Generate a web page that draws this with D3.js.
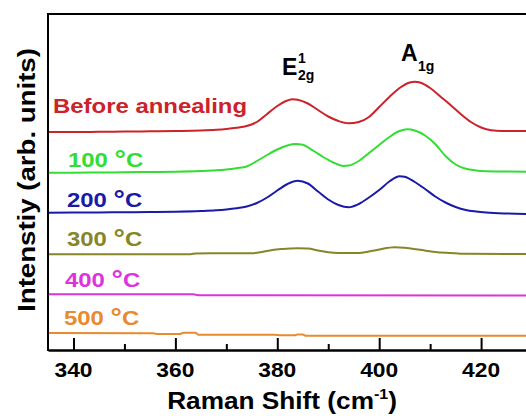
<!DOCTYPE html>
<html><head><meta charset="utf-8">
<script src="https://cdn.jsdelivr.net/npm/d3@7"></script>
<style>html,body{margin:0;padding:0;background:#fff;overflow:hidden}</style>
</head><body><svg id="c" width="526" height="416"></svg>
<script>
// ---- data (Raman shift in cm^-1, intensity in arb. units incl. vertical offsets) ----
const xTicks = [340, 360, 380, 400, 420];
const xMinorTicks = [350, 370, 390, 410, 430];
const seriesLabels = ["Before annealing", "100 °C", "200 °C", "300 °C", "400 °C", "500 °C"];
const seriesColors = ["#cc2229", "#33dd33", "#1a1aa8", "#868628", "#dd33dd", "#e88a2e"];

const shiftBefore = [335,340,345,350,355,360,365,368,370,372,374,376,378,380,382,383,384,386,388,390,392,394,396,398,400,402,404,406,407,408,410,412,414,416,418,420,422,424,428,440];
const intBefore   = [2.18,2.18,2.182,2.184,2.187,2.19,2.195,2.202,2.21,2.222,2.24,2.28,2.36,2.44,2.495,2.507,2.502,2.465,2.40,2.335,2.29,2.267,2.28,2.33,2.43,2.53,2.62,2.675,2.683,2.675,2.62,2.535,2.45,2.36,2.28,2.225,2.197,2.19,2.19,2.19];

const shift100 = [335,340,345,350,355,360,365,368,370,372,374,376,378,380,382,383.5,385,387,389,391,393,394,396,398,400,402,404,405.5,407,409,411,413,415,417,419,421,425,440];
const int100   = [1.773,1.773,1.775,1.777,1.78,1.783,1.79,1.797,1.805,1.818,1.835,1.89,1.95,2.005,2.045,2.06,2.052,1.995,1.93,1.875,1.84,1.844,1.89,1.97,2.05,2.13,2.19,2.207,2.195,2.145,2.06,1.94,1.855,1.812,1.795,1.788,1.784,1.783];

const shift200 = [335,340,345,350,355,360,365,368,370,372,374,376,378,380,382,384,386,388,390,392,394,396,398,400,402,404,405,407,409,411,413,415,417,419,421,425,430,440];
const int200   = [1.373,1.374,1.376,1.378,1.38,1.383,1.39,1.397,1.405,1.417,1.435,1.47,1.525,1.595,1.66,1.693,1.665,1.585,1.505,1.45,1.427,1.46,1.525,1.60,1.685,1.738,1.732,1.68,1.61,1.535,1.475,1.43,1.40,1.385,1.375,1.365,1.36,1.357];

const shift300 = [335,345,355,363,364,370,375,377,379,381,384,386,388,390,392,396,398,400,403,405,408,411,414,417,425,440];
const int300   = [0.957,0.957,0.957,0.958,0.966,0.967,0.968,0.98,1.0,1.01,1.017,1.014,0.995,0.977,0.97,0.97,0.985,1.005,1.027,1.022,1.002,0.98,0.97,0.962,0.96,0.96];

const shift400 = [335,363.5,364.5,440];
const int400   = [0.557,0.557,0.547,0.546];

const shift500 = [335,355.5,356.5,361,361.5,364,364.5,379.5,380.5,383.5,384,385,385.5,440];
const int500   = [0.17,0.167,0.16,0.16,0.172,0.172,0.153,0.153,0.147,0.147,0.156,0.156,0.143,0.143];

const seriesX = [shiftBefore, shift100, shift200, shift300, shift400, shift500];
const seriesY = [intBefore, int100, int200, int300, int400, int500];
const seriesSmooth = [true, true, true, true, false, false];

// ---- layout ----
const svg = d3.select("#c");
const mLeft = 48, mTop = 14, mBottom = 350;
const x = d3.scaleLinear().domain([335, 440]).range([mLeft, mLeft + 535]);
const y = d3.scaleLinear().domain([0, 3.36]).range([mBottom, mTop]);
const FONT = "Arial, 'Liberation Sans', Helvetica, sans-serif";
const SX = 1.14;

svg.append("defs").append("clipPath").attr("id", "clip")
  .append("rect").attr("x", mLeft).attr("y", mTop).attr("width", 600).attr("height", mBottom - mTop);

// curves
const plot = svg.append("g").attr("clip-path", "url(#clip)");
seriesX.forEach((xs, i) => {
  const pts = xs.map((v, j) => [v, seriesY[i][j]]);
  const line = d3.line().x(d => x(d[0])).y(d => y(d[1]))
    .curve(seriesSmooth[i] ? d3.curveMonotoneX : d3.curveLinear);
  plot.append("path").datum(pts).attr("d", line)
    .attr("fill", "none").attr("stroke", seriesColors[i]).attr("stroke-width", 2);
});

// frame
svg.append("line").attr("x1", mLeft).attr("x2", 526).attr("y1", mTop).attr("y2", mTop)
  .attr("stroke", "#000").attr("stroke-width", 2);
svg.append("line").attr("x1", mLeft).attr("x2", mLeft).attr("y1", mTop - 1).attr("y2", mBottom + 1)
  .attr("stroke", "#000").attr("stroke-width", 2);

// x axis
const xAxis = d3.axisBottom(x).tickValues(xTicks).tickSizeInner(-12).tickSizeOuter(0).tickFormat("");
const gx = svg.append("g").attr("transform", `translate(0,${mBottom})`).call(xAxis);
gx.select(".domain").attr("stroke", "#000").attr("stroke-width", 2.5);
gx.selectAll(".tick line").attr("stroke", "#000").attr("stroke-width", 2);
const xMinor = d3.axisBottom(x).tickValues(xMinorTicks).tickSizeInner(-6).tickSizeOuter(0).tickFormat("");
const gm = svg.append("g").attr("transform", `translate(0,${mBottom})`).call(xMinor);
gm.select(".domain").remove();
gm.selectAll(".tick line").attr("stroke", "#000").attr("stroke-width", 2);

// tick labels
xTicks.forEach(v => {
  svg.append("text").attr("transform", `translate(${x(v)},377) scale(${SX},1)`)
    .attr("text-anchor", "middle").attr("font-family", FONT).attr("font-weight", "bold")
    .attr("font-size", 20).attr("fill", "#000").text(v);
});

// x title
const xt = svg.append("text").attr("transform", `translate(282,409) scale(${SX},1)`)
  .attr("text-anchor", "middle").attr("font-family", FONT).attr("font-weight", "bold")
  .attr("font-size", 23).attr("fill", "#000");
xt.append("tspan").text("Raman Shift (cm");
xt.append("tspan").attr("font-size", 14).attr("dy", -10).text("-1");
xt.append("tspan").attr("dy", 10).text(")");

// y title
svg.append("text").attr("transform", "translate(35,180) rotate(-90) scale(1.15,1)")
  .attr("text-anchor", "middle").attr("font-family", FONT).attr("font-weight", "bold")
  .attr("font-size", 24).attr("fill", "#000").text("Intenstiy (arb. units)");

// series labels
const labelPos = [[53, 113.3], [68, 166.5], [67, 206.7], [67, 246], [65, 287.3], [64, 325]];
seriesLabels.forEach((t, i) => {
  const tx = svg.append("text").attr("transform", `translate(${labelPos[i][0]},${labelPos[i][1]}) scale(${SX},1)`)
    .attr("font-family", FONT).attr("font-weight", "bold").attr("font-size", 21)
    .attr("fill", seriesColors[i]);
  const k = t.indexOf("°");
  if (k < 0) { tx.text(t); return; }
  tx.append("tspan").text(t.slice(0, k));
  tx.append("tspan").attr("font-size", 25).attr("dy", 1).text("°");
  tx.append("tspan").attr("dy", -1).text(t.slice(k + 1));
});

// peak labels
const e = svg.append("text").attr("font-family", FONT).attr("font-weight", "bold").attr("fill", "#000");
e.append("tspan").attr("x", 282).attr("y", 75).attr("font-size", 23).text("E");
e.append("tspan").attr("x", 298).attr("y", 63).attr("font-size", 14).text("1");
e.append("tspan").attr("x", 298).attr("y", 79.5).attr("font-size", 14).text("2g");
const a = svg.append("text").attr("font-family", FONT).attr("font-weight", "bold").attr("fill", "#000");
a.append("tspan").attr("x", 401).attr("y", 61).attr("font-size", 23).text("A");
a.append("tspan").attr("x", 418).attr("y", 71).attr("font-size", 14).text("1g");
</script></body></html>
